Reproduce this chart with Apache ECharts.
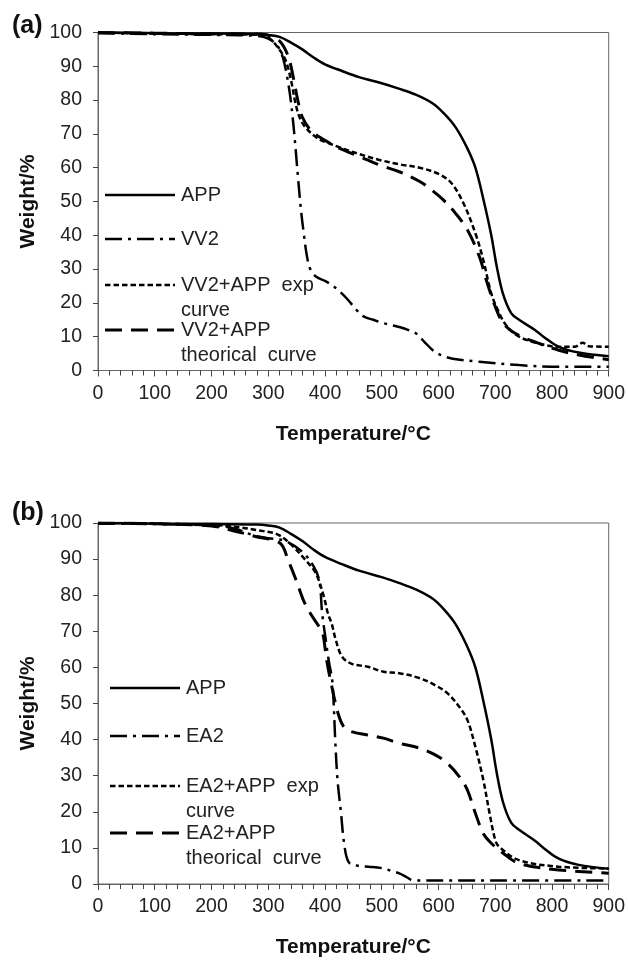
<!DOCTYPE html>
<html>
<head>
<meta charset="utf-8">
<script src="https://cdn.jsdelivr.net/npm/echarts@6/dist/echarts.min.js"></script>
<style>
  html, body { margin: 0; padding: 0; background: #fff; }
  #main { width: 628px; height: 962px; }
</style>
</head>
<body>
<div id="main"></div>
<script>
// temperature (°C), weight (%)
const appCurve = [[0,100],[50,100],[100,99.8],[200,99.7],[280,99.6],[300,99.3],[320,98.7],[340,97],[360,95],[380,92.6],[400,90.6],[430,88.6],[460,86.8],[500,85],[530,83.4],[560,81.6],[590,79],[610,76],[630,72],[650,66],[665,60],[680,50],[693,40],[703,30.5],[714,22.5],[728,17],[742,15],[770,12],[785,10],[812,7],[847,5.3],[900,4.2]]

// panel (a)
const vv2Curve = [[0,99.8],[100,99.5],[200,99.3],[280,99],[300,98.2],[315,96.3],[325,93],[332,88],[338,82],[343,75],[348,66],[353,56],[358,47],[363,40],[368,34],[374,30],[384,27.8],[400,26.5],[412,25.3],[425,23.5],[440,21],[455,18],[468,16],[485,15],[503,14],[520,13.3],[538,12.5],[560,11],[575,8.5],[590,6],[605,4.5],[625,3.5],[672,2.6],[742,1.6],[812,1.1],[900,1.1]]
const vv2ExpCurve = [[0,100],[100,99.7],[200,99.5],[280,99.3],[300,98.5],[315,96],[330,92],[340,86],[348,79],[355,75],[363,72.5],[377,70],[391,68.3],[410,67],[426,66],[461,64],[496,62.3],[531,61],[567,60],[602,58],[623,55.4],[644,49.5],[665,40.6],[679,32.7],[693,22.8],[707,17],[721,13],[742,10],[777,8],[812,7],[840,7],[854,8.2],[865,7.2],[900,7]]
const vv2TheoCurve = [[0,100],[100,99.8],[200,99.6],[280,99.5],[300,99.2],[320,97.5],[335,93],[345,86],[352,80],[360,75],[375,71],[391,69],[426,65.7],[461,63.3],[496,60.8],[531,58.8],[567,55.9],[588,53.4],[609,50.4],[630,46.5],[651,41.6],[672,33.7],[686,25.8],[700,18.9],[714,14],[735,11],[777,8],[812,6],[847,4.6],[900,3.2]]

// panel (b)
const ea2Curve = [[0,99.8],[100,99.7],[200,99.3],[240,98.5],[272,96.7],[300,95.8],[330,95],[360,92],[380,88],[390,84],[395,75],[401,68],[407,61.5],[413,56],[418,40],[422,29],[428,20],[434,11],[442,6],[460,5],[477,4.8],[500,4.4],[518,3.6],[530,3],[545,1.8],[555,1],[700,1],[900,1]]
const ea2ExpCurve = [[0,100],[100,99.8],[200,99.5],[250,98.8],[280,98],[314,97],[337,94.5],[367,89.5],[384,86],[398,79.6],[405,75],[412,72],[419,67.6],[430,63],[447,61],[475,60.2],[503,58.8],[531,58.4],[567,57],[595,55],[616,52.8],[637,49],[651,45.4],[665,38],[679,28.8],[690,19.6],[700,12.2],[707,10.3],[742,6.6],[812,4.8],[900,4.3]]
const ea2TheoCurve = [[0,100],[100,99.8],[200,99.2],[223,98.5],[279,96.2],[321,94.4],[335,89.7],[349,84.2],[361,79],[372,75.5],[390,71.2],[396,69.5],[403,62],[412,54.7],[423,47.3],[433,43.6],[447,42.2],[475,41.3],[503,40.4],[531,39],[567,37.6],[595,35.7],[616,33.4],[637,29.7],[651,26],[665,19.6],[679,14],[693,11.3],[714,8.5],[742,5.7],[812,3.9],[900,3.0]]

const legendA = ['APP', 'VV2', 'VV2+APP  exp\ncurve', 'VV2+APP\ntheorical  curve']
const legendB = ['APP', 'EA2', 'EA2+APP  exp\ncurve', 'EA2+APP\ntheorical  curve']

const FONT = '"Liberation Sans", Arial, sans-serif'
const dashes = ['solid', [17, 6, 3, 6], [5.5, 3], [17, 9]]
const widths = [2.5, 2.5, 2.5, 3]

const xAxis = (gridIndex) => ({
  gridIndex,
  type: 'value',
  min: 0,
  max: 900,
  interval: 100,
  name: 'Temperature/°C',
  nameLocation: 'middle',
  nameGap: 53,
  nameTextStyle: { fontFamily: FONT, fontSize: 21, fontWeight: 'bold', color: '#111' },
  axisLine: { show: true, lineStyle: { color: '#666', width: 1 } },
  axisTick: { show: true, length: 6, lineStyle: { color: '#444' } },
  minorTick: { show: true, splitNumber: 5, length: 5, lineStyle: { color: '#444' } },
  axisLabel: { margin: 13, fontFamily: FONT, fontSize: 19.5, color: '#222' },
  splitLine: { show: false }
})

const yAxis = (gridIndex) => ({
  gridIndex,
  type: 'value',
  min: 0,
  max: 100,
  interval: 10,
  name: 'Weight/%',
  nameLocation: 'middle',
  nameGap: 57,
  nameTextStyle: { fontFamily: FONT, fontSize: 21, fontWeight: 'bold', color: '#111' },
  axisLine: { show: true, lineStyle: { color: '#666', width: 1 } },
  axisTick: { show: true, length: 5, lineStyle: { color: '#444' } },
  axisLabel: { margin: 16, fontFamily: FONT, fontSize: 19.5, color: '#222' },
  splitLine: { show: false }
})

const line = (data, idx, axisIndex) => ({
  type: 'line',
  data,
  xAxisIndex: axisIndex,
  yAxisIndex: axisIndex,
  showSymbol: false,
  smooth: 0.35,
  silent: true,
  lineStyle: { color: '#000', width: widths[idx], type: dashes[idx] }
})

// legend block: line sample + label, drawn inside each plot
function placeLegend (names, x, ys) {
  const children = []
  names.forEach((name, i) => {
    const dash = dashes[i] === 'solid' ? null : dashes[i]
    children.push({
      type: 'line',
      x, y: ys[i],
      shape: { x1: 0, y1: 0, x2: 70, y2: 0 },
      style: { stroke: '#000', lineWidth: widths[i], lineDash: dash }
    })
    children.push({
      type: 'text',
      x: x + 76, y: ys[i] - 12.5,
      style: { text: name, font: '20px ' + FONT, fill: '#222', lineHeight: 25 }
    })
  })
  return children
}

const chart = echarts.init(document.getElementById('main'))
chart.setOption({
  animation: false,
  backgroundColor: '#fff',
  title: [
    { text: '(a)', left: 7, top: 9, textStyle: { fontFamily: FONT, fontSize: 25, fontWeight: 'bold', color: '#111' } },
    { text: '(b)', left: 7, top: 496, textStyle: { fontFamily: FONT, fontSize: 25, fontWeight: 'bold', color: '#111' } }
  ],
  grid: [
    { left: 98, right: 17, top: 32.5, height: 338, show: true, borderColor: '#666', borderWidth: 1 },
    { left: 98, right: 17, top: 523, height: 361, show: true, borderColor: '#666', borderWidth: 1 }
  ],
  xAxis: [xAxis(0), xAxis(1)],
  yAxis: [yAxis(0), yAxis(1)],
  series: [
    line(appCurve, 0, 0),
    line(vv2Curve, 1, 0),
    line(vv2ExpCurve, 2, 0),
    line(vv2TheoCurve, 3, 0),
    line(appCurve, 0, 1),
    line(ea2Curve, 1, 1),
    line(ea2ExpCurve, 2, 1),
    line(ea2TheoCurve, 3, 1)
  ],
  graphic: [
    ...placeLegend(legendA, 105, [195, 239, 285, 330]),
    ...placeLegend(legendB, 110, [688, 736, 786, 833])
  ]
})
</script>
</body>
</html>
